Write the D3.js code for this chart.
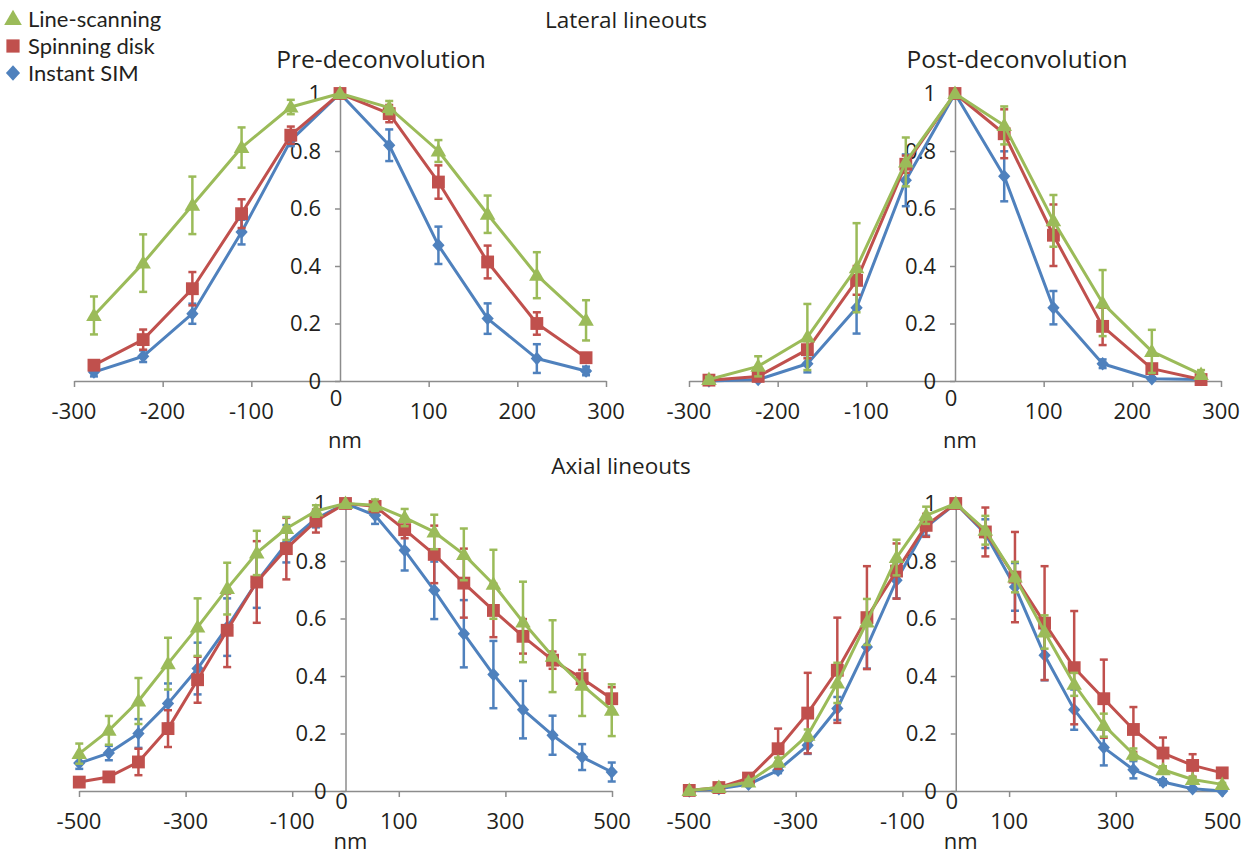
<html>
<head>
<script src="https://d3js.org/d3.v7.min.js"></script>
<style>
  body { margin: 0; background: white; }
  svg { font-family: "Open Sans", sans-serif; }
  .lbl { fill: #231f20; font-size: 22px; }
  .title { fill: #231f20; font-size: 22.5px; }
  .legend { fill: #231f20; font-size: 22px; font-family: Lato, sans-serif; }
  .axis line, .axis path { stroke: #8c8c8c; stroke-width: 1.5px; }
</style>
</head>
<body>
<svg id="chart" width="1244" height="854"></svg>
<script>
// x positions of the measurements (nm)
const latX = [-277.5, -222, -166.5, -111, -55.5, 0, 55.5, 111, 166.5, 222, 277.5];
const axX = [-499.5, -444, -388.5, -333, -277.5, -222, -166.5, -111, -55.5, 0,
             55.5, 111, 166.5, 222, 277.5, 333, 388.5, 444, 499.5];

const seriesNames = ["Line-scanning", "Spinning disk", "Instant SIM"];
const seriesColors = ["#9bbb59", "#c0504d", "#4f81bd"];
const seriesMarkers = ["triangle", "square", "diamond"];

// lateral, pre-deconvolution
const preLatLine = [0.228, 0.41, 0.611, 0.812, 0.953, 1, 0.951, 0.80, 0.58, 0.368, 0.211];
const preLatLineErr = [0.066, 0.10, 0.10, 0.07, 0.025, 0, 0.023, 0.038, 0.065, 0.08, 0.07];
const preLatSpin = [0.055, 0.144, 0.321, 0.582, 0.855, 1, 0.93, 0.692, 0.414, 0.20, 0.081];
const preLatSpinErr = [0.012, 0.035, 0.058, 0.05, 0.03, 0, 0.03, 0.058, 0.057, 0.039, 0.012];
const preLatSim = [0.031, 0.086, 0.234, 0.518, 0.837, 1, 0.82, 0.472, 0.217, 0.078, 0.035];
const preLatSimErr = [0.015, 0.02, 0.035, 0.043, 0.02, 0, 0.055, 0.065, 0.053, 0.05, 0.015];

// lateral, post-deconvolution
const postLatLine = [0.005, 0.051, 0.153, 0.394, 0.762, 1, 0.889, 0.557, 0.271, 0.103, 0.023];
const postLatLineErr = [0.01, 0.035, 0.115, 0.155, 0.085, 0, 0.066, 0.09, 0.115, 0.075, 0.015];
const postLatSpin = [0.003, 0.016, 0.109, 0.35, 0.754, 1, 0.86, 0.507, 0.19, 0.043, 0.005];
const postLatSpinErr = [0.005, 0.01, 0.03, 0.05, 0.03, 0, 0.085, 0.107, 0.065, 0.015, 0.005];
const postLatSim = [0, 0.005, 0.06, 0.255, 0.698, 1, 0.712, 0.255, 0.06, 0.008, 0.005];
const postLatSimErr = [0, 0.005, 0.03, 0.09, 0.09, 0, 0.087, 0.058, 0.015, 0.005, 0.005];

// axial, pre-deconvolution
const preAxLine = [0.13, 0.211, 0.313, 0.443, 0.57, 0.704, 0.828, 0.913, 0.974, 1,
                   0.994, 0.951, 0.901, 0.823, 0.719, 0.588, 0.469, 0.368, 0.281];
const preAxLineErr = [0.035, 0.05, 0.08, 0.09, 0.1, 0.09, 0.077, 0.04, 0.02, 0,
                      0.02, 0.03, 0.06, 0.09, 0.12, 0.14, 0.125, 0.107, 0.09];
const preAxSpin = [0.031, 0.049, 0.101, 0.217, 0.387, 0.559, 0.727, 0.843, 0.939, 1,
                   0.99, 0.909, 0.823, 0.723, 0.628, 0.538, 0.455, 0.391, 0.321];
const preAxSpinErr = [0.008, 0.01, 0.046, 0.064, 0.08, 0.128, 0.142, 0.107, 0.04, 0,
                      0.02, 0.03, 0.10, 0.12, 0.093, 0.06, 0.03, 0.03, 0.04];
const preAxSim = [0.097, 0.132, 0.2, 0.304, 0.426, 0.57, 0.727, 0.86, 0.947, 1,
                  0.959, 0.837, 0.698, 0.547, 0.405, 0.283, 0.194, 0.118, 0.066];
const preAxSimErr = [0.02, 0.025, 0.05, 0.07, 0.09, 0.1, 0.09, 0.065, 0.03, 0,
                     0.03, 0.07, 0.1, 0.117, 0.117, 0.1, 0.068, 0.045, 0.033];

// axial, post-deconvolution
const postAxLine = [0.002, 0.012, 0.031, 0.101, 0.194, 0.376, 0.588, 0.812, 0.959, 1,
                    0.907, 0.744, 0.553, 0.371, 0.229, 0.128, 0.074, 0.04, 0.023];
const postAxLineErr = [0.003, 0.005, 0.008, 0.015, 0.02, 0.07, 0.08, 0.062, 0.03, 0,
                       0.05, 0.053, 0.058, 0.04, 0.04, 0.02, 0.012, 0.008, 0.005];
const postAxSpin = [0.002, 0.012, 0.045, 0.147, 0.271, 0.42, 0.603, 0.765, 0.924, 1,
                    0.901, 0.744, 0.584, 0.429, 0.321, 0.214, 0.132, 0.089, 0.063];
const postAxSpinErr = [0.003, 0.005, 0.01, 0.07, 0.14, 0.183, 0.179, 0.096, 0.04, 0,
                       0.085, 0.157, 0.198, 0.197, 0.136, 0.078, 0.054, 0.039, 0.01];
const postAxSim = [0, 0.008, 0.023, 0.072, 0.159, 0.287, 0.501, 0.733, 0.918, 1,
                   0.895, 0.71, 0.472, 0.283, 0.151, 0.074, 0.031, 0.008, 0];
const postAxSimErr = [0, 0.003, 0.005, 0.01, 0.03, 0.04, 0.075, 0.063, 0.03, 0,
                      0.05, 0.083, 0.087, 0.07, 0.062, 0.03, 0.01, 0.005, 0];

const latTicks = [-300, -200, -100, 100, 200, 300];
const axTicks = [-500, -300, -100, 100, 300, 500];
const yTicks = [0, 0.2, 0.4, 0.6, 0.8, 1];

const svg = d3.select("#chart");

// titles
svg.append("text").attr("class", "title").attr("x", 626).attr("y", 28)
   .attr("text-anchor", "middle").text("Lateral lineouts");
svg.append("text").attr("class", "title").attr("x", 381).attr("y", 68)
   .attr("text-anchor", "middle").style("font-size", "24.5px").text("Pre-deconvolution");
svg.append("text").attr("class", "title").attr("x", 1017).attr("y", 68)
   .attr("text-anchor", "middle").style("font-size", "24.5px").text("Post-deconvolution");
svg.append("text").attr("class", "title").attr("x", 621).attr("y", 474)
   .attr("text-anchor", "middle").text("Axial lineouts");

// Excel-style diamond: a square turned on its corner
const excelDiamond = {
  draw(ctx, size) {
    const r = Math.sqrt(size / 2);
    ctx.moveTo(0, -r * 1.1); ctx.lineTo(r, 0); ctx.lineTo(0, r * 1.1); ctx.lineTo(-r, 0); ctx.closePath();
  }
};
const symbolType = { triangle: d3.symbolTriangle, square: d3.symbolSquare, diamond: excelDiamond };
const symbolSize = { triangle: 105, square: 165, diamond: 75 };

function drawPanel(cfg) {
  const g = svg.append("g");
  const x = d3.scaleLinear().domain(cfg.xDomain).range(cfg.xRange);
  const y = d3.scaleLinear().domain([0, 1]).range([cfg.y0, cfg.y0 - 287.5]);

  // x axis
  g.append("g").attr("class", "axis")
    .attr("transform", `translate(0,${cfg.y0})`)
    .call(d3.axisBottom(x).tickValues(cfg.ticks).tickSize(6).tickSizeOuter(0).tickFormat(""));
  // y axis at x = 0
  g.append("g").attr("class", "axis")
    .attr("transform", `translate(${x(0)},0)`)
    .call(d3.axisLeft(y).tickValues(yTicks).tickSize(5).tickSizeOuter(0).tickFormat(""));

  // tick labels
  g.selectAll(".xl").data(cfg.ticks).join("text")
    .attr("class", "lbl").attr("text-anchor", "middle")
    .attr("x", d => x(d)).attr("y", cfg.y0 + cfg.xLabDy).text(d => d);
  g.append("text").attr("class", "lbl").attr("text-anchor", "middle")
    .attr("x", x(0) - 4).attr("y", cfg.y0 + cfg.zeroDy).text("0");
  g.selectAll(".yl").data(yTicks).join("text")
    .attr("class", "lbl").attr("text-anchor", "end")
    .attr("x", x(0) - 19).attr("y", d => y(d) + 7.5).text(d => d);
  g.append("text").attr("class", "lbl").attr("text-anchor", "middle")
    .attr("x", x(0) + 5).attr("y", cfg.y0 + cfg.nmDy).text("nm");

  // series: draw Instant SIM first, Line-scanning last
  [2, 1, 0].forEach(i => {
    const vals = cfg.values[i], errs = cfg.errors[i];
    const pts = cfg.xs.map((xv, j) => ({ x: xv, v: vals[j], e: errs[j] }));
    const col = seriesColors[i];
    const sg = g.append("g");
    const eb = sg.selectAll(".eb").data(pts.filter(p => p.e > 0)).join("g");
    eb.append("line").attr("x1", p => x(p.x)).attr("x2", p => x(p.x))
      .attr("y1", p => y(p.v - p.e)).attr("y2", p => y(p.v + p.e))
      .attr("stroke", col).attr("stroke-width", 2.5);
    [-1, 1].forEach(s => {
      eb.append("line").attr("x1", p => x(p.x) - 4).attr("x2", p => x(p.x) + 4)
        .attr("y1", p => y(p.v + s * p.e)).attr("y2", p => y(p.v + s * p.e))
        .attr("stroke", col).attr("stroke-width", 2.5);
    });
    sg.append("path").datum(pts)
      .attr("d", d3.line().x(p => x(p.x)).y(p => y(p.v)))
      .attr("fill", "none").attr("stroke", col).attr("stroke-width", 3)
      .attr("stroke-linejoin", "round");
    const m = seriesMarkers[i];
    sg.selectAll(".mk").data(pts).join("path")
      .attr("transform", p => `translate(${x(p.x)},${y(p.v) + (m === "triangle" ? 1 : 0)})`)
      .attr("d", d3.symbol().type(symbolType[m]).size(symbolSize[m]))
      .attr("fill", col);
  });
}

drawPanel({ xDomain: [-300, 300], xRange: [74, 606], y0: 381, ticks: latTicks, xs: latX,
  xLabDy: 38, zeroDy: 25, nmDy: 67,
  values: [preLatLine, preLatSpin, preLatSim], errors: [preLatLineErr, preLatSpinErr, preLatSimErr] });
drawPanel({ xDomain: [-300, 300], xRange: [689, 1221], y0: 381, ticks: latTicks, xs: latX,
  xLabDy: 38, zeroDy: 25, nmDy: 67,
  values: [postLatLine, postLatSpin, postLatSim], errors: [postLatLineErr, postLatSpinErr, postLatSimErr] });
drawPanel({ xDomain: [-500, 500], xRange: [79, 612], y0: 791, ticks: axTicks, xs: axX,
  xLabDy: 38, zeroDy: 18, nmDy: 58,
  values: [preAxLine, preAxSpin, preAxSim], errors: [preAxLineErr, preAxSpinErr, preAxSimErr] });
drawPanel({ xDomain: [-500, 500], xRange: [689, 1222.5], y0: 791, ticks: axTicks, xs: axX,
  xLabDy: 38, zeroDy: 18, nmDy: 58,
  values: [postAxLine, postAxSpin, postAxSim], errors: [postAxLineErr, postAxSpinErr, postAxSimErr] });

// legend
const legendY = [19, 46, 73];
seriesNames.forEach((name, i) => {
  const m = seriesMarkers[i];
  svg.append("path")
    .attr("transform", `translate(13,${legendY[i] + (m === "triangle" ? 1 : 0)})`)
    .attr("d", d3.symbol().type(symbolType[m]).size(m === "triangle" ? 135 : m === "square" ? 175 : 100))
    .attr("fill", seriesColors[i]);
  svg.append("text").attr("class", "legend").attr("x", 28).attr("y", legendY[i] + 8).text(name);
});
</script>
</body>
</html>
